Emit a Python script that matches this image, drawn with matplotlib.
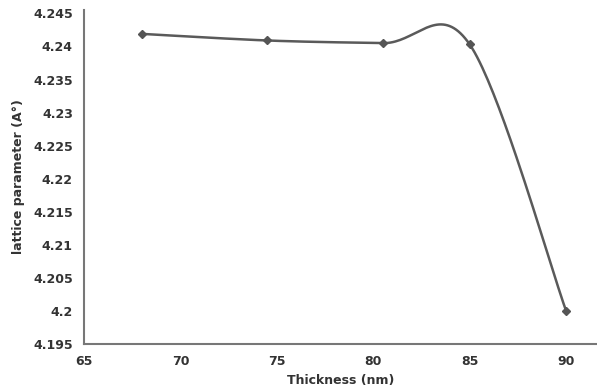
import numpy as np
import matplotlib.pyplot as plt

thickness = [68, 74.5, 80.5, 85, 90]
lattice = [4.2419, 4.2409, 4.2405, 4.2403, 4.2]
x_ticks = [65, 70, 75, 80, 85, 90]
y_ticks = [4.195, 4.2, 4.205, 4.21, 4.215, 4.22, 4.225, 4.23, 4.235, 4.24, 4.245]
y_tick_labels = ["4.195", "4.2", "4.205", "4.21", "4.215", "4.22", "4.225", "4.23", "4.235", "4.24", "4.245"]


def smooth(xs, ys, n=40):
    # Catmull-Rom style bezier like Excel's smoothed line
    p = np.column_stack([xs, ys])
    p = np.vstack([p[0], p, p[-1]])
    out = []
    for i in range(1, len(p) - 2):
        p0, p1, p2, p3 = p[i - 1], p[i], p[i + 1], p[i + 2]
        c1 = p1 + (p2 - p0) / 6
        c2 = p2 - (p3 - p1) / 6
        t = np.linspace(0, 1, n)[:, None]
        seg = (1 - t) ** 3 * p1 + 3 * (1 - t) ** 2 * t * c1 + 3 * (1 - t) * t ** 2 * c2 + t ** 3 * p2
        out.append(seg)
    out = np.vstack(out)
    return out[:, 0], out[:, 1]


plt.rcParams['font.family'] = ['DejaVu Sans']
fig = plt.figure(figsize=(5.97, 3.87), dpi=100)
ax = fig.add_axes([0.1407, 0.111, 0.8593, 0.863])

sx, sy = smooth(thickness, lattice)
ax.plot(sx, sy, color="#5a5a5a", lw=1.8)
ax.plot(thickness, lattice, linestyle="none", marker="D", ms=4, color="#555555")

ax.set_xlim(65, 91.6)
ax.set_ylim(4.195, 4.2455)
ax.set_xticks(x_ticks)
ax.set_xticklabels([str(v) for v in x_ticks], fontweight="bold", fontsize=9, color="#333333")
ax.set_yticks(y_ticks)
ax.set_yticklabels(y_tick_labels, fontweight="bold", fontsize=9, color="#333333")
ax.tick_params(length=0, pad=8)

for s in ["top", "right"]:
    ax.spines[s].set_visible(False)
for s in ["left", "bottom"]:
    ax.spines[s].set_color("#777777")
    ax.spines[s].set_linewidth(1.5)

ax.set_xlabel("Thickness (nm)", fontweight="bold", fontsize=9, color="#333333", labelpad=4)
ax.set_ylabel("lattice parameter (A°)", fontweight="bold", fontsize=9, color="#333333", labelpad=6)

fig.savefig("out.png", dpi=100)
